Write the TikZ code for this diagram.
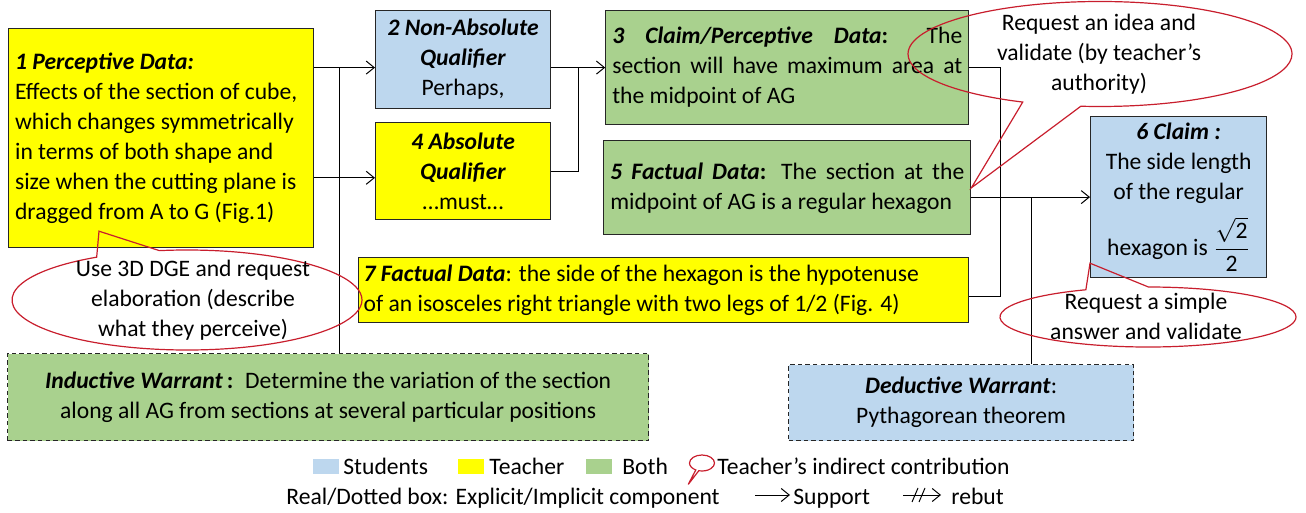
\documentclass[tikz,border=0pt]{standalone}
\usepackage{amsmath}
\usepackage{fontspec}
\setmainfont{Carlito}
\usetikzlibrary{arrows.meta, positioning, shapes.callouts, calc}

\definecolor{studblue}{HTML}{BDD7EE}
\definecolor{teachyellow}{HTML}{FFFF00}
\definecolor{bothgreen}{HTML}{A9D18E}
\definecolor{boxline}{HTML}{262626}
\definecolor{hintred}{RGB}{200,30,45}

\begin{document}
\begin{tikzpicture}[
  x=0.5pt, y=-0.5pt,
  every node/.style={font=\fontsize{11.8}{15}\selectfont},
  % Styles
  comp/.style={rectangle, draw=boxline, line width=0.6pt, align=center, inner sep=3pt},
  stud/.style={comp, fill=studblue},
  teach/.style={comp, fill=teachyellow},
  both/.style={comp, fill=bothgreen},
  implicit/.style={dash pattern=on 2.2pt off 1.6pt},
  hint/.style={ellipse callout, draw=hintred, line width=0.6pt, inner sep=0pt},
  hinttext/.style={align=center, inner sep=0pt},
  arr/.style={-{Straight Barb[length=4pt, width=6.5pt]}, line width=0.5pt},
  link/.style={line width=0.5pt},
  legtext/.style={inner sep=0pt, anchor=base west},
  legkey/.style={minimum width=13pt, minimum height=7.5pt, inner sep=0pt},
]
  \useasboundingbox (0,0) rectangle (1306,513);

  % ── DATA AND QUALIFIERS ───────────────────────────────────
  \node[teach, anchor=north west, align=flush left, text width=146pt, inner xsep=3.25pt, minimum height=109.5pt] (p1) at (8,28)
    {\textbf{\textit{1 Perceptive Data:}}\\
     Effects of the section of cube,\\
     which changes symmetrically\\
     in terms of both shape and\\
     size when the cutting plane is\\
     dragged from A to G (Fig.1)};

  \node[stud, anchor=north west, minimum width=87.5pt, minimum height=49pt] (q2) at (375,10)
    {\textbf{\textit{2 Non-Absolute}}\\\textbf{\textit{Qualifier}}\\Perhaps,};
  \node[teach, below=6.5pt of q2, minimum width=87.5pt, minimum height=48.5pt] (q4)
    {\textbf{\textit{4 Absolute}}\\\textbf{\textit{Qualifier}}\\…must…};

  % ── CLAIMS AND FACTS ──────────────────────────────────────
  \node[both, right=27pt of q2.north east, anchor=north west, align=justify, text width=175pt, inner xsep=3.25pt, minimum height=57pt] (c3)
    {\textbf{\textit{3 Claim/Perceptive Data}}\textbf{:} The\linebreak
     section will have maximum area at\linebreak
     the midpoint of AG};
  \node[both, below=7.5pt of c3, align=justify, text width=177pt, inner xsep=3.25pt, minimum height=47pt] (c5)
    {\textbf{\textit{5 Factual Data}}\textbf{:} The section at the\linebreak
     midpoint of AG is a regular hexagon};

  \node[stud, anchor=north west, minimum width=88pt, minimum height=78pt] (c6) at (1090,116)
    {\textbf{\textit{6 Claim :}}\\The side length\\of the regular\\[6pt]hexagon is $\dfrac{\sqrt{\text{2}}}{\text{2}}$};

  \node[teach, anchor=north west, align=flush left, text width=300pt, inner xsep=2.5pt, minimum height=32.5pt] (d7) at (358,257)
    {\textbf{\textit{7 Factual Data}}: the side of the hexagon is the hypotenuse\\
     of an isosceles right triangle with two legs of 1/2 (Fig. 4)};

  % ── WARRANTS (implicit) ───────────────────────────────────
  \node[both, implicit, anchor=north west, minimum width=320.5pt, minimum height=43.5pt] (wi) at (7,353)
    {\textbf{\textit{Inductive Warrant}}\,\textbf{:}\enspace Determine the variation of the section\\
     along all AG from sections at several particular positions};
  \node[stud, implicit, anchor=north west, minimum width=172.5pt, minimum height=38pt] (wd) at (788,364)
    {\textbf{\textit{Deductive Warrant}}:\\Pythagorean theorem};

  % ── ARROWS ────────────────────────────────────────────────
  \coordinate (q4in) at ([yshift=-3.25pt]q4.west);
  \coordinate (j23) at ($(q2.east |- c3.west)!0.5!(c3.west)$);
  \coordinate (j37) at ([xshift=15.5pt]c3.east);
  \coordinate (d7out) at ([yshift=-3.25pt]d7.east);

  % Perceptive data to qualifiers
  \draw[arr] (p1.east |- c3.west) -- (q2.west |- c3.west);
  \draw[arr] (p1.east |- q4in) -- (q4in);
  \draw[link] ([xshift=5.75pt]wi.north) -- ([xshift=5.75pt]wi.north |- c3.west);

  % Qualifiers to claim 3
  \draw[arr] (q2.east |- c3.west) -- (c3.west);
  \draw[link] (q4.east) -| (j23);

  % Facts to claim 6
  \draw[link] (c3.east) -- (j37) |- (d7out);
  \draw[arr] (c5.east |- c6.west) -- (c6.west);
  \draw[link] ([xshift=35.25pt]wd.north) -- ([xshift=35.25pt]wd.north |- c6.west);

  % ── TEACHER'S INDIRECT CONTRIBUTIONS ──────────────────────
  \node[hint, minimum width=175pt, minimum height=50pt, callout pointer arc=22,
        callout absolute pointer={([xshift=45.5pt,yshift=8.5pt]p1.south west)}] (hA) at (187,300) {};
  \node[hinttext] (hAtxt) at (193,300) {Use 3D DGE and request\\elaboration (describe\\what they perceive)};

  \node[hint, minimum width=192pt, minimum height=52.5pt, callout pointer arc=18,
        callout absolute pointer={(c5.east)}] (hB) at (1100,54) {};
  \node[hinttext] (hBtxt) at (1099,54) {Request an idea and\\validate (by teacher’s\\authority)};

  \node[hint, minimum width=148pt, minimum height=30pt, callout pointer arc=25,
        callout absolute pointer={([yshift=7.5pt]c6.south west)}] (hC) at (1148,317) {};
  \node[hinttext] (hCtxt) at (1146,316) {Request a simple\\answer and validate};

  % ── LEGEND ────────────────────────────────────────────────
  \node[legkey, fill=studblue] (keyS) at (326,466.5) {};
  \node[legtext] (lS) at (343,474) {Students};
  \node[legkey, fill=teachyellow] (keyT) at (470.5,466.5) {};
  \node[legtext] (lT) at (489,474) {Teacher};
  \node[legkey, fill=bothgreen] (keyB) at (599,466.5) {};
  \node[legtext] (lB) at (622,474) {Both};
  \node[hint, minimum width=12.5pt, minimum height=8pt, callout relative pointer={(-9,14)}] (keyH) at (702,463) {};
  \node[legtext] (lH) at (717,474) {Teacher’s indirect contribution};

  \node[legtext] (lbox) at (286,504) {Real/Dotted box: Explicit/Implicit component};
  \node[legtext] (lsup) at (793,504) {Support};
  \draw[arr] ([xshift=-19pt,yshift=4.5pt]lsup.base west) -- ([xshift=-1.5pt,yshift=4.5pt]lsup.base west);
  \node[legtext] (lreb) at (951,504) {rebut};
  \draw[arr] ([xshift=-24pt,yshift=4.5pt]lreb.base west) -- ([xshift=-5pt,yshift=4.5pt]lreb.base west);
  \draw[link] ([xshift=-19.5pt,yshift=1pt]lreb.base west) -- ++(3pt,7pt);
  \draw[link] ([xshift=-16pt,yshift=1pt]lreb.base west) -- ++(3pt,7pt);

\end{tikzpicture}
\end{document}
